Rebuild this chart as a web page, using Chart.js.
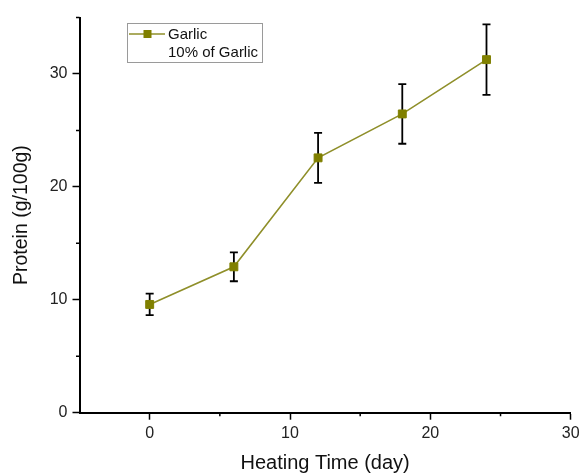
<!DOCTYPE html>
<html>
<head>
<meta charset="utf-8">
<script src="https://cdn.jsdelivr.net/npm/chart.js@4.4.1/dist/chart.umd.min.js"></script>
<style>
html,body{margin:0;padding:0;background:#fff;}
#wrap{width:580px;height:474px;}
</style>
</head>
<body>
<div id="wrap"><canvas id="c" width="580" height="474"></canvas></div>
<script>
// ---- data ----
const days = [0, 6, 12, 18, 24];
const protein = [9.59, 12.92, 22.57, 26.46, 31.27];
const proteinErr = [0.95, 1.28, 2.22, 2.64, 3.12];
const xTickValues = [0, 10, 20, 30];
const yTickValues = [0, 10, 20, 30];
const xMinorTicks = [5, 15, 25];
const yMinorTicks = [5, 15, 25, 35];
const seriesLabel = 'Garlic';
const legendSubLabel = '10% of Garlic';
const xTitle = 'Heating Time (day)';
const yTitle = 'Protein (g/100g)';

const FONT = "'Liberation Sans', Arial, Helvetica, sans-serif";
const LINE_COLOR = '#8f8f2a';
const MARK_COLOR = '#808000';

const errorBars = {
  id: 'errorBars',
  beforeDatasetsDraw(chart) {
    const {ctx, scales: {x, y}} = chart;
    ctx.save();
    ctx.strokeStyle = '#000';
    ctx.lineWidth = 1.8;
    days.forEach((d, i) => {
      const px = x.getPixelForValue(d);
      const top = y.getPixelForValue(protein[i] + proteinErr[i]);
      const bot = y.getPixelForValue(protein[i] - proteinErr[i]);
      ctx.beginPath();
      ctx.moveTo(px, top); ctx.lineTo(px, bot);
      ctx.moveTo(px - 4, top); ctx.lineTo(px + 4, top);
      ctx.moveTo(px - 4, bot); ctx.lineTo(px + 4, bot);
      ctx.stroke();
    });
    ctx.restore();
  }
};

const minorTicks = {
  id: 'minorTicks',
  afterDraw(chart) {
    const {ctx, chartArea, scales: {x, y}} = chart;
    ctx.save();
    ctx.strokeStyle = '#000';
    ctx.lineWidth = 1.5;
    ctx.beginPath();
    xMinorTicks.forEach(v => {
      const px = x.getPixelForValue(v);
      ctx.moveTo(px, chartArea.bottom); ctx.lineTo(px, chartArea.bottom + 3.5);
    });
    yMinorTicks.forEach(v => {
      const py = y.getPixelForValue(v);
      ctx.moveTo(chartArea.left, py); ctx.lineTo(chartArea.left - 3.5, py);
    });
    ctx.stroke();
    ctx.restore();
  }
};

const boxLegend = {
  id: 'boxLegend',
  afterDraw(chart) {
    const ctx = chart.ctx;
    ctx.save();
    ctx.strokeStyle = '#9a9a9a';
    ctx.lineWidth = 1;
    ctx.strokeRect(127.5, 23.5, 135, 39);
    ctx.strokeStyle = LINE_COLOR;
    ctx.lineWidth = 1.6;
    ctx.beginPath();
    ctx.moveTo(129, 34); ctx.lineTo(165, 34);
    ctx.stroke();
    ctx.fillStyle = MARK_COLOR;
    ctx.fillRect(143.5, 30, 8, 8);
    ctx.fillStyle = '#111';
    ctx.font = '15px ' + FONT;
    ctx.textBaseline = 'middle';
    ctx.textAlign = 'left';
    ctx.fillText(seriesLabel, 168, 34.5);
    ctx.fillText(legendSubLabel, 168, 52.5);
    ctx.restore();
  }
};

new Chart(document.getElementById('c'), {
  type: 'line',
  data: {
    datasets: [{
      label: seriesLabel,
      data: days.map((d, i) => ({x: d, y: protein[i]})),
      borderColor: LINE_COLOR,
      borderWidth: 1.6,
      backgroundColor: MARK_COLOR,
      pointStyle: 'rect',
      pointRadius: 5.6,
      pointBorderWidth: 1,
      pointBorderColor: MARK_COLOR,
      pointBackgroundColor: MARK_COLOR,
      tension: 0
    }]
  },
  options: {
    responsive: false,
    devicePixelRatio: 1,
    animation: false,
    layout: {padding: {top: 17.5, right: 9.3, left: 0, bottom: 0}},
    plugins: {legend: {display: false}, tooltip: {enabled: false}},
    scales: {
      x: {
        type: 'linear',
        min: -5, max: 30,
        afterBuildTicks(s) { s.ticks = xTickValues.map(v => ({value: v})); },
        afterFit(s) { s.height = 61.3; s.paddingLeft = 0; s.paddingRight = 0; },
        grid: {drawOnChartArea: false, drawTicks: true, tickLength: 7, tickWidth: 1.5, tickColor: '#000'},
        border: {display: true, color: '#000', width: 2},
        ticks: {color: '#222', font: {family: FONT, size: 16}, padding: 4, maxRotation: 0},
        title: {display: true, text: xTitle, color: '#111', font: {family: FONT, size: 20, lineHeight: 1}, padding: {top: 0, bottom: 0.5}}
      },
      y: {
        type: 'linear',
        min: 0, max: 35,
        afterBuildTicks(s) { s.ticks = yTickValues.map(v => ({value: v})); },
        afterFit(s) { s.width = 79.5; s.paddingTop = 0; s.paddingBottom = 0; },
        grid: {drawOnChartArea: false, drawTicks: true, tickLength: 7, tickWidth: 1.5, tickColor: '#000'},
        border: {display: true, color: '#000', width: 2},
        ticks: {color: '#222', font: {family: FONT, size: 16}, padding: 5},
        title: {display: true, text: yTitle, color: '#111', font: {family: FONT, size: 19.5, lineHeight: 1}, padding: {top: 11.5, bottom: 0}}
      }
    }
  },
  plugins: [errorBars, minorTicks, boxLegend]
});
</script>
</body>
</html>
